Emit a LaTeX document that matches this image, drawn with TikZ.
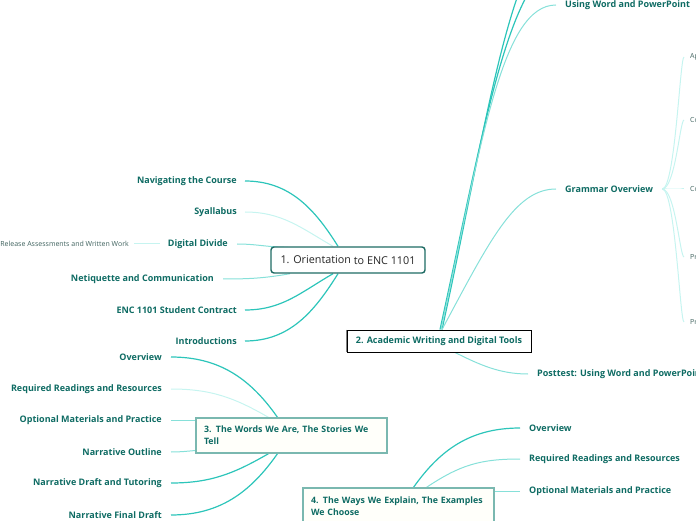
\documentclass[tikz,border=0pt]{standalone}
\usepackage{fontspec}
\setmainfont{Open Sans}
\definecolor{tealtext}{HTML}{0E6B63}
\definecolor{greytext}{HTML}{3F625E}
\definecolor{cmain}{HTML}{2CC5BA}
\definecolor{clight}{HTML}{86E0D9}
\definecolor{cpale}{HTML}{C6F4F0}
\definecolor{boxdark}{HTML}{1E6B64}
\definecolor{boxmid}{HTML}{7AB8B0}
\definecolor{boxfill}{HTML}{FFFFFA}
\pgfdeclarelayer{bg}
\pgfsetlayers{bg,main}
\begin{document}
\begin{tikzpicture}[x=1pt,y=1pt,
  lbl/.style={font=\bfseries\fontsize{9}{10}\selectfont, text=tealtext, inner sep=0pt},
  sml/.style={font=\fontsize{7}{8}\selectfont, text=greytext, inner sep=0pt},
  mainc/.style={draw=cmain, line width=1.2pt},
  lightc/.style={draw=clight, line width=1pt},
  palec/.style={draw=cpale, line width=1pt},
  topicbox/.style={draw=boxmid, line width=1.3pt, fill=boxfill, font=\bfseries\fontsize{8.8}{12}\selectfont, text=tealtext, align=left, text width=175pt, inner xsep=8pt, inner ysep=4pt}
]
\useasboundingbox (0,0) rectangle (696,520);

% ---- central topic 1
\node[draw=boxdark, line width=1.4pt, rounded corners=3pt, fill=white, minimum width=154pt, minimum height=26pt, inner sep=0pt,
      font=\fontsize{10.8}{12}\selectfont, text=black!85] (n1) at (348,260) {\raisebox{1pt}{1. Orientation} to ENC 1101};

\node[lbl, anchor=east] (nav) at (237,339) {Navigating the Course};
\node[lbl, anchor=east] (syl) at (237,308) {Syallabus};
\node[lbl, anchor=east] (dd) at (228,276) {Digital Divide};
\node[sml, anchor=east] (ra) at (129,276) {Release Assessments and Written Work};
\node[lbl, anchor=east] (net) at (214,241) {Netiquette and Communication};
\node[lbl, anchor=east] (con) at (237,210) {ENC 1101 Student Contract};
\node[lbl, anchor=east] (intro) at (237,179) {Introductions};

% ---- topic 2
\node[draw=black, line width=0.9pt, fill=white, minimum width=184pt, minimum height=22pt, inner sep=0pt,
      font=\bfseries\fontsize{9}{10}\selectfont, text=tealtext] (n2) at (439,179) {2. Academic Writing and Digital Tools};
\draw[draw=gray, line width=1.6pt] (n2.north west) -- (n2.south west);

\node[lbl, anchor=west] (uw) at (565,515) {Using Word and PowerPoint};
\node[lbl, anchor=west] (go) at (565,331) {Grammar Overview};
\node[lbl, anchor=west] (pt) at (537,146) {Posttest: Using Word and PowerPoint};
\coordinate (off1) at (565,556);
\coordinate (off2) at (565,587);

\node[sml, anchor=west] (g1) at (690,463) {Ap};
\node[sml, anchor=west] (g2) at (690,400) {Co};
\node[sml, anchor=west] (g3) at (690,331) {Co};
\node[sml, anchor=west] (g4) at (690,263) {Pr};
\node[sml, anchor=west] (g5) at (690,198) {Pr};

% ---- topic 3
\node[topicbox, minimum height=35pt] (n3) at (291.5,84.5) {3. The Words We Are, The Stories We\\Tell};
\node[lbl, anchor=east] (o3) at (162,163) {Overview};
\node[lbl, anchor=east] (r3) at (162,131) {Required Readings and Resources};
\node[lbl, anchor=east] (p3) at (162,100) {Optional Materials and Practice};
\node[lbl, anchor=east] (no) at (162,68) {Narrative Outline};
\node[lbl, anchor=east] (nd) at (162,37) {Narrative Draft and Tutoring};
\node[lbl, anchor=east] (nf) at (162,5) {Narrative Final Draft};

% ---- topic 4
\node[topicbox, minimum height=37pt] (n4) at (398.5,13.5) {4. The Ways We Explain, The Examples\\We Choose};
\node[lbl, anchor=west] (o4) at (529,92) {Overview};
\node[lbl, anchor=west] (r4) at (529,61) {Required Readings and Resources};
\node[lbl, anchor=west] (p4) at (529,29) {Optional Materials and Practice};

\begin{pgfonlayer}{bg}
% topic 1 branches
\draw[mainc] ([xshift=8pt]nav.east) to[out=0,in=122] ([xshift=-10pt]n1.north);
\draw[palec] ([xshift=8pt]syl.east) to[out=0,in=150] ([xshift=-15pt]n1.north);
\draw[lightc] ([xshift=9pt]dd.east) to[out=0,in=180] ([xshift=-60pt,yshift=-1pt]n1.north);
\draw[palec] ([xshift=5pt]ra.east) -- ([xshift=-8pt]dd.west);
\draw[lightc] ([xshift=9pt]net.east) to[out=0,in=-170] ([xshift=-58pt]n1.south);
\draw[mainc] ([xshift=8pt]con.east) to[out=0,in=-150] ([xshift=-15pt]n1.south);
\draw[mainc] ([xshift=8pt]intro.east) to[out=0,in=-122] ([xshift=-10pt]n1.south);
% topic 2 branches
\draw[mainc] ([xshift=1pt]n2.north) .. controls (484,390) and (510,556) .. (off1);
\draw[mainc] ([xshift=3pt]n2.north) .. controls (486,390) and (512,587) .. (off2);
\draw[lightc] ([xshift=2pt]n2.north) .. controls (482,380) and (502,515) .. ([xshift=-9pt]uw.west);
\draw[lightc] ([xshift=3pt]n2.north) .. controls (490,280) and (515,331) .. ([xshift=-9pt]go.west);
\draw[lightc] ([xshift=16pt]n2.south) .. controls (480,155) and (500,146) .. ([xshift=-9pt]pt.west);
\foreach \g in {g1,g2,g3,g4,g5}{
  \draw[palec] ([xshift=9pt]go.east) .. controls +(13,0) and ([xshift=-10pt]\g.west) .. ([xshift=-6pt]\g.west);
}
% topic 3 branches
\draw[mainc] ([xshift=9pt]o3.east) to[out=0,in=125] ([xshift=-14pt]n3.north);
\draw[palec] ([xshift=9pt]r3.east) to[out=0,in=150] ([xshift=-23pt]n3.north);
\draw[lightc] ([xshift=9pt]p3.east) -- (n3.west |- p3.east);
\draw[lightc] ([xshift=9pt]no.east) to[out=0,in=185] ([yshift=-15pt]n3.west);
\draw[mainc] ([xshift=9pt]nd.east) to[out=0,in=-150] ([xshift=-23pt]n3.south);
\draw[mainc] ([xshift=9pt]nf.east) to[out=0,in=-125] ([xshift=-14pt]n3.south);
% topic 4 branches
\draw[mainc] ([xshift=15pt]n4.north) .. controls (440,70) and (470,92) .. ([xshift=-9pt]o4.west);
\draw[lightc] ([xshift=28pt]n4.north) .. controls (460,55) and (480,61) .. ([xshift=-9pt]r4.west);
\draw[lightc] (n4.east |- p4.west) -- ([xshift=-9pt]p4.west);
\end{pgfonlayer}
\end{tikzpicture}
\end{document}
